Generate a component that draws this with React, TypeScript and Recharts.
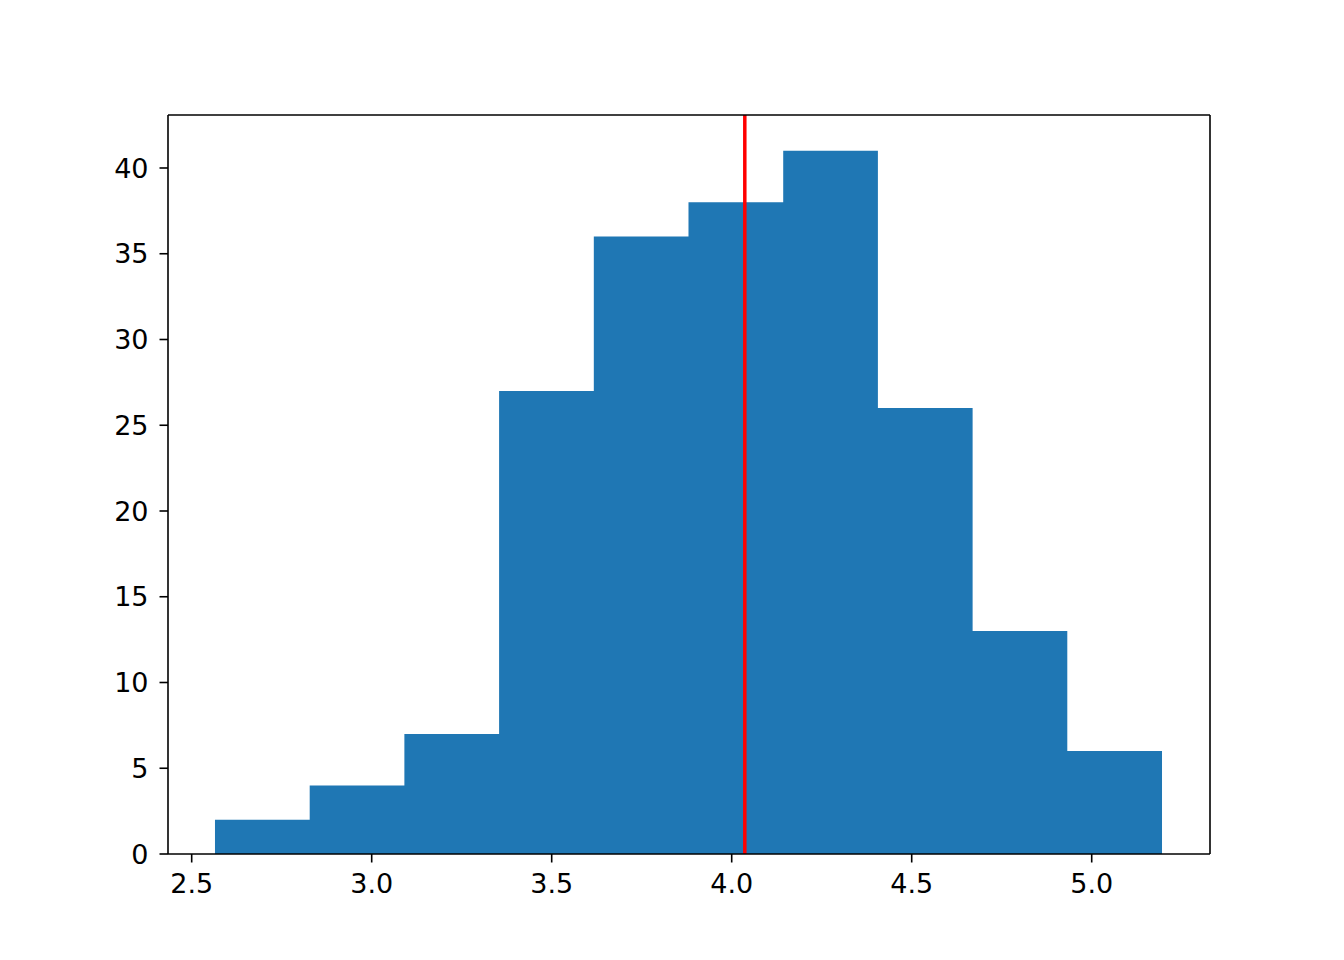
import React from 'react';
import { ComposedChart, Area, XAxis, YAxis, ReferenceLine } from 'recharts';

const binEdges = [2.5647, 2.8278, 3.0908, 3.3539, 3.617, 3.88, 4.1431, 4.4061, 4.6692, 4.9322, 5.1953];
const counts = [2, 4, 7, 27, 36, 38, 41, 26, 13, 6];
const xTicks = [2.5, 3.0, 3.5, 4.0, 4.5, 5.0];
const yTicks = [0, 5, 10, 15, 20, 25, 30, 35, 40];
const meanValue = 4.0364;
const xDomain = [2.4342, 5.3286];
const yDomain = [0, 43.09];

const data = binEdges.map((x, i) => ({ x, y: i < counts.length ? counts[i] : counts[counts.length - 1] }));

const FONT = 'DejaVu Sans';
const FS = 27;
const lineStyle = { stroke: '#000', strokeWidth: 1.6 };

const XTick = (props: any) => {
  const { x, y, payload } = props;
  return (
    <text x={x} y={y} dy="0.71em" textAnchor="middle" fill="#000" fontSize={FS} fontFamily={FONT}>
      {Number(payload.value).toFixed(1)}
    </text>
  );
};

const YTick = (props: any) => {
  const { x, y, payload } = props;
  return (
    <text x={x} y={y} dy="0.355em" textAnchor="end" fill="#000" fontSize={FS} fontFamily={FONT}>
      {String(payload.value)}
    </text>
  );
};

export default function App() {
  return (
    <div style={{ position: 'absolute', left: 0, top: 0, background: '#fff' }}>
      <ComposedChart width={1344} height={960} data={data} margin={{ top: 114, right: 133, bottom: 0, left: 0 }}>
        <XAxis
          dataKey="x"
          type="number"
          domain={xDomain}
          allowDataOverflow
          ticks={xTicks}
          tick={<XTick />}
          tickLine={lineStyle}
          axisLine={lineStyle}
          tickSize={8.5}
          tickMargin={11}
          height={106}
          interval={0}
        />
        <XAxis
          xAxisId="top"
          orientation="top"
          type="number"
          domain={xDomain}
          allowDataOverflow
          tick={false}
          tickLine={false}
          axisLine={lineStyle}
          height={1}
        />
        <YAxis
          type="number"
          domain={yDomain}
          allowDataOverflow
          ticks={yTicks}
          tick={<YTick />}
          tickLine={lineStyle}
          axisLine={lineStyle}
          tickSize={8.5}
          tickMargin={11}
          width={168}
          interval={0}
        />
        <YAxis
          yAxisId="right"
          orientation="right"
          type="number"
          domain={yDomain}
          allowDataOverflow
          tick={false}
          tickLine={false}
          axisLine={lineStyle}
          width={1}
        />
        <Area
          type="stepAfter"
          dataKey="y"
          fill="#1f77b4"
          fillOpacity={1}
          stroke="none"
          isAnimationActive={false}
          baseValue={0}
        />
        <ReferenceLine x={meanValue} stroke="#ff0000" strokeWidth={3.5} />
      </ComposedChart>
    </div>
  );
}
